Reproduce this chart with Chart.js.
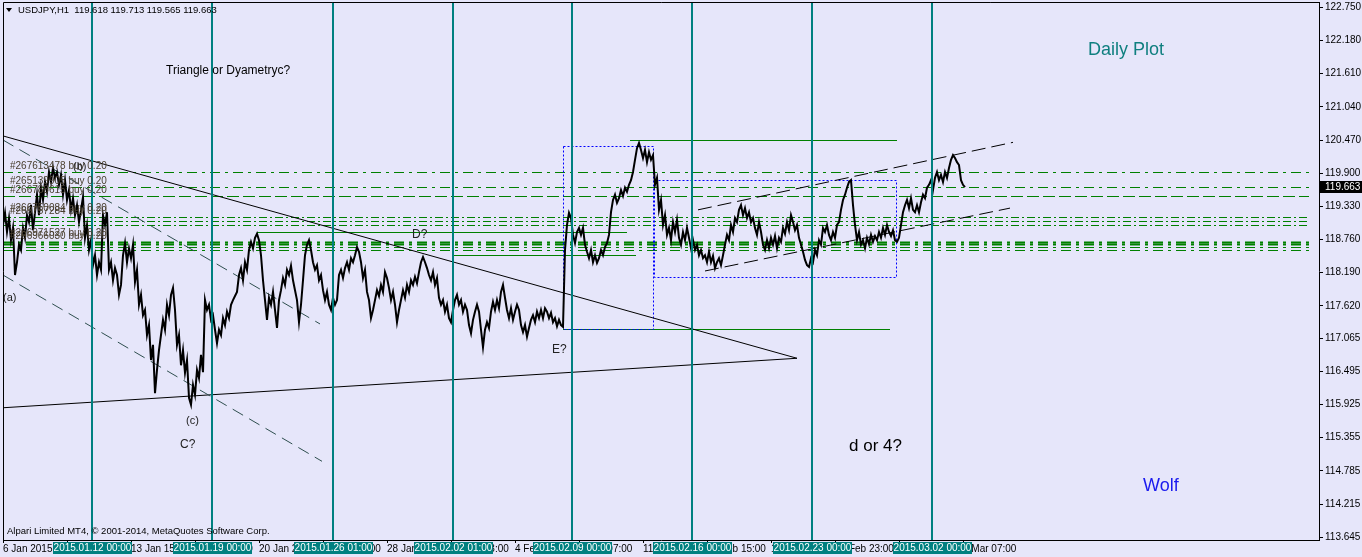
<!DOCTYPE html>
<html>
<head>
<meta charset="utf-8">
<script src="https://cdn.jsdelivr.net/npm/chart.js@4.4.0/dist/chart.umd.min.js"></script>
<style>
  html, body { margin: 0; padding: 0; background: #e6e6fa; }
  #wrap { width: 1362px; height: 557px; }
</style>
</head>
<body>
<div id="wrap"><canvas id="chart" width="1362" height="557"></canvas></div>
<script>
// USDJPY H1 closes, one value every 2 bars
const barStep = 2;
const closes = [
  119.01,119.22,118.89,119.13,118.75,118.96,118.15,118.37,118.67,118.58,
  118.96,118.79,119.18,119.06,119.35,118.92,119.23,119.53,119.18,119.65,
  119.44,119.75,119.58,119.92,119.75,119.99,119.82,119.92,119.70,119.87,
  119.53,119.78,119.44,119.61,119.27,119.47,119.18,119.35,119.06,119.27,
  119.49,118.79,119.01,118.58,118.75,118.32,118.49,118.15,118.37,118.24,
  119.18,119.01,119.23,118.24,118.37,118.06,118.27,118.15,117.81,117.98,
  118.49,118.70,118.37,118.61,118.44,118.67,118.03,118.24,117.64,117.81,
  117.46,117.55,117.12,117.29,116.69,116.95,116.12,116.52,116.86,117.12,
  117.38,117.21,117.64,117.46,117.81,117.93,117.55,116.95,117.12,116.60,
  116.86,116.47,116.69,116.04,115.92,116.26,116.09,116.52,116.38,116.78,
  116.48,117.72,117.55,117.64,117.38,117.46,117.21,116.98,117.21,117.12,
  117.41,117.29,117.52,117.41,117.64,117.72,117.79,117.86,118.15,118.27,
  118.06,118.37,118.24,118.58,118.72,118.61,118.79,118.86,118.75,118.49,
  118.06,117.72,117.38,117.76,117.64,117.86,117.55,117.24,117.72,117.89,
  118.10,117.98,118.24,118.15,118.31,118.06,117.89,117.72,117.34,117.64,
  118.06,118.49,118.67,118.75,118.58,118.37,118.24,118.32,118.06,118.15,
  117.89,117.72,117.86,117.64,117.55,117.76,117.64,117.72,118.15,118.24,
  118.10,118.27,118.37,118.24,118.44,118.37,118.49,118.63,118.55,118.37,
  118.10,118.24,117.86,117.72,117.41,117.55,117.72,117.89,117.79,117.98,
  117.86,118.20,118.10,117.93,117.72,117.86,117.64,117.34,117.55,117.72,
  117.89,117.76,117.98,117.86,118.06,117.98,118.12,118.01,118.20,118.37,
  118.46,118.37,118.27,118.15,118.06,118.20,117.98,118.10,117.76,117.64,
  117.72,117.52,117.64,117.41,117.34,117.55,117.72,117.81,117.64,117.72,
  117.52,117.64,117.55,117.29,117.15,117.38,117.52,117.64,117.52,117.21,
  116.91,117.21,117.34,117.24,117.52,117.69,117.55,117.72,117.58,117.86,
  117.98,117.76,117.55,117.41,117.58,117.38,117.52,117.64,117.55,117.29,
  117.17,117.29,117.09,117.24,117.38,117.46,117.34,117.52,117.41,117.55,
  117.41,117.58,117.52,117.41,117.50,117.34,117.41,117.27,117.38,117.29,
  117.26,
  118.58,119.01,119.22,119.13,118.84,118.70,118.89,118.96,118.84,118.96,
  118.67,118.55,118.44,118.58,118.37,118.49,118.36,118.44,118.58,118.49,
  118.63,118.70,118.84,119.23,119.44,119.53,119.39,119.47,119.61,119.51,
  119.65,119.58,119.70,119.78,119.92,120.13,120.33,120.42,120.30,120.16,
  120.30,120.09,120.26,120.13,120.21,119.70,119.82,119.27,119.44,119.01,
  119.18,118.84,118.96,118.75,119.06,118.89,119.10,118.79,118.67,118.89,
  118.75,118.96,118.79,118.61,118.75,118.58,118.67,118.49,118.58,118.44,
  118.49,118.37,118.55,118.37,118.48,118.27,118.37,118.44,118.32,118.49,
  118.67,118.84,118.75,119.01,118.89,119.13,119.06,119.27,119.35,119.18,
  119.30,119.13,119.23,119.06,119.13,118.96,118.84,119.06,118.89,118.67,
  118.58,118.75,118.61,118.79,118.67,118.82,118.61,118.79,118.72,118.96,
  118.86,119.06,118.92,119.18,119.06,118.92,119.01,118.79,118.67,118.55,
  118.41,118.32,118.29,118.44,118.37,118.58,118.49,118.75,118.67,118.96,
  118.89,119.01,118.84,118.75,118.89,118.79,119.01,119.06,119.27,119.44,
  119.53,119.65,119.75,119.78,119.35,119.01,118.75,118.89,118.67,118.75,
  118.61,118.79,118.68,118.84,118.72,118.82,118.75,118.89,118.79,118.96,
  118.84,119.01,118.89,118.82,118.92,118.75,118.72,118.79,119.01,119.23,
  119.35,119.44,119.30,119.47,119.27,119.23,119.35,119.23,119.40,119.53,
  119.47,119.65,119.70,119.78,119.61,119.82,119.92,119.78,119.87,119.75,
  119.92,119.82,119.99,120.13,120.21,120.16,120.09,120.04,119.78,119.70,
  119.66
];
const lastPrice = 119.663;

const priceTicks = [122.750, 122.180, 121.610, 121.040, 120.470, 119.900, 119.330, 118.760,
  118.190, 117.620, 117.065, 116.495, 115.925, 115.355, 114.785, 114.215, 113.645];
const timeTickBars = [0, 64, 128, 192, 256, 320, 384, 448, 512, 576, 640, 704, 768, 832, 896, 960];
const timeTickLabels = ['6 Jan 2015', '9 Jan 23:00', '13 Jan 15:00', '16 Jan 07:00', '20 Jan 23:00',
  '23 Jan 15:00', '28 Jan 07:00', '30 Jan 23:00', '4 Feb 15:00', '9 Feb 07:00', '11 Feb 23:00',
  '16 Feb 15:00', '19 Feb 07:00', '23 Feb 23:00', '26 Feb 15:00', '3 Mar 07:00'];

const weekBars = [89, 209, 330, 450, 569, 689, 809, 929];
const weekLabels = ['2015.01.12 00:00', '2015.01.19 00:00', '2015.01.26 01:00', '2015.02.02 01:00',
  '2015.02.09 00:00', '2015.02.16 00:00', '2015.02.23 00:00', '2015.03.02 00:00'];

// open order levels (green dash-dot lines)
const orderLevels = [119.92, 119.66, 119.51, 119.15, 119.08, 119.01, 118.72, 118.69, 118.63, 118.58];
const orderLabels = [
  ['#267613478 buy 0.20', 119.92],
  ['#265139905 buy 0.20', 119.66],
  ['#266788615 buy 0.20', 119.51],
  ['#266750084 buy 0.20', 119.19],
  ['#266757284 buy 0.20', 119.15],
  ['#266971527 buy 0.20', 118.76],
  ['#266966030 buy 0.20', 118.72]
];

// solid green horizontal lines: [fromBar, toBar, price]
const hLines = [[627, 894, 120.47], [254, 624, 118.89], [450, 633, 118.49], [560, 887, 117.23]];
// blue dotted boxes: [fromBar, toBar, high, low]
const boxes = [[560, 650, 120.37, 117.23], [651, 893, 119.78, 118.12]];
// trend lines: [bar1, price1, bar2, price2]
const solidTrends = [[0, 120.54, 794, 116.72], [0, 115.87, 794, 116.72]];
const channelTrends = [[0, 120.47, 317, 117.31], [0, 118.15, 319, 114.95]];
const wedgeTrends = [[695, 119.27, 1010, 120.43], [702, 118.22, 1007, 119.30]];

// chart notes: [text, bar, price, size, color]
const notes = [
  ['Triangle or Dyametryc?', 163, 121.66, 12, '#000000'],
  ['Daily Plot', 1085, 122.02, 18, '#0f7f7f'],
  ['Wolf', 1140, 114.53, 18, '#1a1aee'],
  ['d or 4?', 846, 115.21, 17, '#000000'],
  ['D?', 409, 118.84, 12, '#222222'],
  ['E?', 549, 116.86, 12, '#222222'],
  ['C?', 177, 115.23, 12, '#222222'],
  ['(c)', 183, 115.64, 11, '#222222'],
  ['(b)', 70, 120.01, 11, '#222222'],
  ['(a)', 0, 117.76, 11, '#222222']
];

const FONT = 'Liberation Sans, Arial, sans-serif';
const TEAL = '#008080';
const GREEN = '#008000';

const points = closes.map((c, i) => ({ x: i * barStep, y: c }));

const overlay = {
  id: 'overlay',
  beforeDraw(chart) {
    const ctx = chart.ctx;
    ctx.save();
    ctx.fillStyle = '#e6e6fa';
    ctx.fillRect(0, 0, chart.width, chart.height);
    ctx.restore();
  },
  beforeDatasetsDraw(chart) {
    const { ctx, chartArea: a, scales: { x, y } } = chart;
    const px = v => x.getPixelForValue(v), py = v => y.getPixelForValue(v);
    ctx.save();
    ctx.beginPath();
    ctx.rect(a.left, a.top, a.right - a.left, a.bottom - a.top);
    ctx.clip();

    // order levels
    ctx.strokeStyle = GREEN;
    orderLevels.forEach((p, i) => {
      ctx.lineWidth = (i === 6 || i === 7) ? 2 : 1;
      ctx.setLineDash(i === 2 ? [12, 4] : (i >= 3 && i <= 5 ? [8, 3, 2, 3] : [10, 5, 3, 5]));
      const yy = Math.round(py(p)) + 0.5;
      ctx.beginPath(); ctx.moveTo(a.left, yy); ctx.lineTo(a.right - 10, yy); ctx.stroke();
    });
    ctx.setLineDash([]);
    ctx.lineWidth = 1;

    // green horizontals
    hLines.forEach(([b1, b2, p]) => {
      const yy = Math.round(py(p)) + 0.5;
      ctx.beginPath(); ctx.moveTo(px(b1), yy); ctx.lineTo(px(b2), yy); ctx.stroke();
    });

    // blue dotted boxes
    ctx.strokeStyle = '#0000ff';
    ctx.setLineDash([2, 2]);
    boxes.forEach(([b1, b2, hi, lo]) => {
      const x1 = Math.round(px(b1)) + 0.5, x2 = Math.round(px(b2)) + 0.5;
      const y1 = Math.round(py(hi)) + 0.5, y2 = Math.round(py(lo)) + 0.5;
      ctx.strokeRect(x1, y1, x2 - x1, y2 - y1);
    });

    // trend lines
    ctx.setLineDash([]);
    ctx.strokeStyle = '#000000';
    solidTrends.forEach(([b1, p1, b2, p2]) => {
      ctx.beginPath(); ctx.moveTo(px(b1), py(p1)); ctx.lineTo(px(b2), py(p2)); ctx.stroke();
    });
    ctx.strokeStyle = '#2f4f4f';
    ctx.setLineDash([12, 7]);
    channelTrends.forEach(([b1, p1, b2, p2]) => {
      ctx.beginPath(); ctx.moveTo(px(b1), py(p1)); ctx.lineTo(px(b2), py(p2)); ctx.stroke();
    });
    ctx.strokeStyle = '#000000';
    ctx.setLineDash([14, 6]);
    wedgeTrends.forEach(([b1, p1, b2, p2]) => {
      ctx.beginPath(); ctx.moveTo(px(b1), py(p1)); ctx.lineTo(px(b2), py(p2)); ctx.stroke();
    });
    ctx.restore();
  },
  afterDatasetsDraw(chart) {
    const { ctx, chartArea: a, scales: { x, y } } = chart;
    const px = v => x.getPixelForValue(v), py = v => y.getPixelForValue(v);
    ctx.save();
    // week separators
    ctx.strokeStyle = TEAL;
    ctx.lineWidth = 2;
    weekBars.forEach(b => {
      const xx = Math.round(px(b));
      ctx.beginPath(); ctx.moveTo(xx, a.top); ctx.lineTo(xx, a.bottom); ctx.stroke();
    });

    // order labels
    ctx.font = '10px ' + FONT;
    ctx.textBaseline = 'bottom';
    ctx.textAlign = 'left';
    ctx.fillStyle = '#4a4030';
    orderLabels.forEach(([t, p]) => ctx.fillText(t, a.left + 7, py(p) - 1));

    // notes
    ctx.textBaseline = 'middle';
    notes.forEach(([t, b, p, s, c]) => {
      ctx.font = s + 'px ' + FONT;
      ctx.fillStyle = c;
      ctx.fillText(t, px(b), py(p));
    });
    ctx.restore();
  },
  afterDraw(chart) {
    const { ctx, chartArea: a, scales: { x, y } } = chart;
    const px = v => x.getPixelForValue(v), py = v => y.getPixelForValue(v);
    ctx.save();
    // frame
    ctx.strokeStyle = '#000';
    ctx.lineWidth = 1;
    ctx.beginPath();
    ctx.moveTo(a.left + 0.5, a.bottom); ctx.lineTo(a.left + 0.5, a.top + 0.5); ctx.lineTo(a.right, a.top + 0.5);
    ctx.stroke();

    // header
    ctx.fillStyle = '#000';
    ctx.beginPath();
    ctx.moveTo(6, 8); ctx.lineTo(12, 8); ctx.lineTo(9, 12); ctx.closePath(); ctx.fill();
    ctx.font = '9.5px ' + FONT;
    ctx.textBaseline = 'middle';
    ctx.textAlign = 'left';
    ctx.fillText('USDJPY,H1  119.618 119.713 119.565 119.663', 18, 10);
    ctx.fillText('Alpari Limited MT4, \u00a9 2001-2014, MetaQuotes Software Corp.', 7, 531);

    // week labels on the time axis
    ctx.font = '10px ' + FONT;
    ctx.textAlign = 'center';
    weekBars.forEach((b, i) => {
      const xx = Math.round(px(b));
      ctx.fillStyle = TEAL;
      ctx.fillRect(xx - 39, a.bottom + 2, 79, 12);
      ctx.fillStyle = '#ffffff';
      ctx.fillText(weekLabels[i], xx + 0.5, a.bottom + 8.5);
    });

    // last price tag
    const yy = Math.round(py(lastPrice));
    ctx.fillStyle = '#000';
    ctx.fillRect(a.right + 1, yy - 6, chart.width - a.right - 1, 12);
    ctx.fillStyle = '#fff';
    ctx.textAlign = 'left';
    ctx.fillText(lastPrice.toFixed(3), a.right + 6, yy + 0.5);
    ctx.restore();
  }
};

new Chart(document.getElementById('chart'), {
  type: 'line',
  data: {
    datasets: [{
      data: points,
      borderColor: '#000000',
      borderWidth: 2,
      pointRadius: 0,
      tension: 0
    }]
  },
  options: {
    responsive: false,
    animation: false,
    devicePixelRatio: 1,
    layout: { autoPadding: false, padding: { left: 3, top: 2, right: 0, bottom: 0 } },
    plugins: { legend: { display: false }, tooltip: { enabled: false } },
    scales: {
      x: {
        type: 'linear',
        min: 0,
        max: 1316,
        afterFit: s => { s.height = 17; s.paddingLeft = 0; s.paddingRight = 0; },
        afterBuildTicks: s => { s.ticks = timeTickBars.map(v => ({ value: v })); },
        grid: { drawOnChartArea: false, drawTicks: true, tickLength: 3, color: '#000' },
        border: { display: true, color: '#000' },
        ticks: {
          autoSkip: false, maxRotation: 0, align: 'start', padding: 0,
          color: '#000', font: { family: FONT, size: 10 },
          callback: (v, i) => timeTickLabels[i]
        }
      },
      y: {
        position: 'right',
        min: 113.598,
        max: 122.841,
        afterFit: s => { s.width = 43; s.paddingTop = 0; s.paddingBottom = 0; },
        afterBuildTicks: s => { s.ticks = priceTicks.map(v => ({ value: v })); },
        grid: { drawOnChartArea: false, drawTicks: true, tickLength: 4, color: '#000' },
        border: { display: true, color: '#000' },
        ticks: {
          autoSkip: false, padding: 2,
          color: '#000', font: { family: FONT, size: 10 },
          callback: v => v.toFixed(3)
        }
      }
    }
  },
  plugins: [overlay]
});
</script>
</body>
</html>
